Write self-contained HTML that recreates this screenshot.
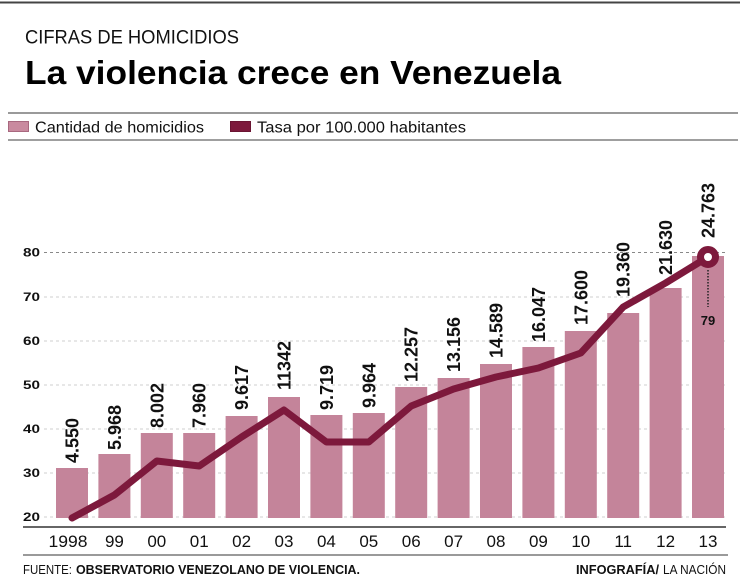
<!DOCTYPE html>
<html>
<head>
<meta charset="utf-8">
<style>
  html, body { margin: 0; padding: 0; background: #ffffff; }
  body { width: 740px; height: 578px; overflow: hidden; }
  svg { display: block; }
  text { font-family: "Liberation Sans", Arial, sans-serif; }
</style>
</head>
<body>
<svg width="740" height="578" viewBox="0 0 740 578" xmlns="http://www.w3.org/2000/svg">
  <rect x="0" y="0" width="740" height="578" fill="#ffffff"/>
  <!-- top rule -->
  <line x1="0" y1="2.5" x2="740" y2="2.5" stroke="#444" stroke-width="2"/>

  <!-- titles -->
  <text x="25" y="43.5" font-size="19" fill="#111" textLength="214" lengthAdjust="spacingAndGlyphs">CIFRAS DE HOMICIDIOS</text>
  <text x="25" y="84" font-size="33" font-weight="bold" fill="#000" textLength="536" lengthAdjust="spacingAndGlyphs">La violencia crece en Venezuela</text>

  <!-- legend -->
  <line x1="8" y1="113" x2="738" y2="113" stroke="#9a9a9a" stroke-width="2"/>
  <rect x="8.5" y="121.5" width="20" height="10" fill="#c98a9f" stroke="#a8687f" stroke-width="1"/>
  <text x="35" y="132.5" font-size="16" fill="#111" textLength="169" lengthAdjust="spacingAndGlyphs">Cantidad de homicidios</text>
  <rect x="230.5" y="121.5" width="20" height="10" fill="#7d193c" stroke="#6a1432" stroke-width="1"/>
  <text x="257" y="132.5" font-size="16" fill="#111" textLength="209" lengthAdjust="spacingAndGlyphs">Tasa por 100.000 habitantes</text>
  <line x1="8" y1="140" x2="738" y2="140" stroke="#666" stroke-width="1.2"/>

  <!-- gridlines -->
  <g stroke-width="1" stroke-dasharray="3,3">
    <line x1="44" y1="252.5" x2="726" y2="252.5" stroke="#888"/>
    <line x1="44" y1="297" x2="726" y2="297" stroke="#cfcfcf"/>
    <line x1="44" y1="341" x2="726" y2="341" stroke="#cfcfcf"/>
    <line x1="44" y1="385" x2="726" y2="385" stroke="#cfcfcf"/>
    <line x1="44" y1="429" x2="726" y2="429" stroke="#cfcfcf"/>
    <line x1="44" y1="473" x2="726" y2="473" stroke="#cfcfcf"/>
    <line x1="44" y1="517" x2="726" y2="517" stroke="#cfcfcf"/>
  </g>

  <!-- y labels -->
  <g font-size="11.5" font-weight="bold" fill="#111" text-anchor="end">
    <text x="40" y="256.5" textLength="17" lengthAdjust="spacingAndGlyphs">80</text>
    <text x="40" y="301" textLength="17" lengthAdjust="spacingAndGlyphs">70</text>
    <text x="40" y="345" textLength="17" lengthAdjust="spacingAndGlyphs">60</text>
    <text x="40" y="389" textLength="17" lengthAdjust="spacingAndGlyphs">50</text>
    <text x="40" y="433" textLength="17" lengthAdjust="spacingAndGlyphs">40</text>
    <text x="40" y="477" textLength="17" lengthAdjust="spacingAndGlyphs">30</text>
    <text x="40" y="521" textLength="17" lengthAdjust="spacingAndGlyphs">20</text>
  </g>

  <!-- bars -->
  <g fill="#c4849a">
    <rect x="56" y="468" width="32" height="50"/>
    <rect x="98.4" y="454" width="32" height="64"/>
    <rect x="140.8" y="433" width="32" height="85"/>
    <rect x="183.2" y="433" width="32" height="85"/>
    <rect x="225.6" y="416" width="32" height="102"/>
    <rect x="268" y="397" width="32" height="121"/>
    <rect x="310.4" y="415" width="32" height="103"/>
    <rect x="352.8" y="413" width="32" height="105"/>
    <rect x="395.2" y="387" width="32" height="131"/>
    <rect x="437.6" y="378" width="32" height="140"/>
    <rect x="480" y="364" width="32" height="154"/>
    <rect x="522.4" y="347" width="32" height="171"/>
    <rect x="564.8" y="331" width="32" height="187"/>
    <rect x="607.2" y="313" width="32" height="205"/>
    <rect x="649.6" y="288" width="32" height="230"/>
    <rect x="692" y="256" width="32" height="262"/>
  </g>

  <!-- value labels (rotated) -->
  <g font-size="18" font-weight="bold" fill="#111">
    <text transform="translate(78.5,463) rotate(-90)">4.550</text>
    <text transform="translate(120.9,450) rotate(-90)">5.968</text>
    <text transform="translate(163.3,428) rotate(-90)">8.002</text>
    <text transform="translate(205.7,428) rotate(-90)">7.960</text>
    <text transform="translate(248.1,410) rotate(-90)">9.617</text>
    <text transform="translate(290.5,390) rotate(-90)">11342</text>
    <text transform="translate(332.9,410) rotate(-90)">9.719</text>
    <text transform="translate(375.3,408) rotate(-90)">9.964</text>
    <text transform="translate(417.7,382) rotate(-90)">12.257</text>
    <text transform="translate(460.1,372) rotate(-90)">13.156</text>
    <text transform="translate(502.5,358) rotate(-90)">14.589</text>
    <text transform="translate(544.9,342) rotate(-90)">16.047</text>
    <text transform="translate(587.3,325) rotate(-90)">17.600</text>
    <text transform="translate(629.7,297) rotate(-90)">19.360</text>
    <text transform="translate(672.1,275) rotate(-90)">21.630</text>
    <text transform="translate(714.5,238) rotate(-90)">24.763</text>
  </g>

  <!-- rate line -->
  <polyline fill="none" stroke="#7d193c" stroke-width="7" stroke-linejoin="round" stroke-linecap="round"
    points="72,518 114.4,495 156.8,461 199.2,466 241.6,437 284,410 326.4,442 368.8,442 411.2,406 453.6,389 496,377 538.4,368 580.8,353 623.2,307 665.6,283 708,257"/>
  <circle cx="708" cy="257" r="7.5" fill="#ffffff" stroke="#7d193c" stroke-width="7"/>

  <!-- 79 annotation -->
  <line x1="708" y1="270" x2="708" y2="307" stroke="#222" stroke-width="1.5" stroke-dasharray="1.5,1.5"/>
  <text x="708" y="325" font-size="13" font-weight="bold" fill="#111" text-anchor="middle">79</text>

  <!-- x axis -->
  <line x1="23" y1="527" x2="726" y2="527" stroke="#333" stroke-width="1.5"/>
  <g font-size="17" fill="#111" text-anchor="middle">
    <text x="68" y="547" textLength="39" lengthAdjust="spacingAndGlyphs">1998</text>
    <text x="114.4" y="547">99</text>
    <text x="156.8" y="547">00</text>
    <text x="199.2" y="547">01</text>
    <text x="241.6" y="547">02</text>
    <text x="284" y="547">03</text>
    <text x="326.4" y="547">04</text>
    <text x="368.8" y="547">05</text>
    <text x="411.2" y="547">06</text>
    <text x="453.6" y="547">07</text>
    <text x="496" y="547">08</text>
    <text x="538.4" y="547">09</text>
    <text x="580.8" y="547">10</text>
    <text x="623.2" y="547">11</text>
    <text x="665.6" y="547">12</text>
    <text x="708" y="547">13</text>
  </g>

  <!-- footer -->
  <line x1="23" y1="555" x2="728" y2="555" stroke="#9a9a9a" stroke-width="2"/>
  <text x="23" y="574" font-size="13" fill="#111" textLength="49" lengthAdjust="spacingAndGlyphs">FUENTE:</text>
  <text x="76" y="574" font-size="13" font-weight="bold" fill="#111" textLength="284" lengthAdjust="spacingAndGlyphs">OBSERVATORIO VENEZOLANO DE VIOLENCIA.</text>
  <text x="576" y="574" font-size="13" font-weight="bold" fill="#111" textLength="83" lengthAdjust="spacingAndGlyphs">INFOGRAFÍA/</text>
  <text x="663" y="574" font-size="13" fill="#111" textLength="63" lengthAdjust="spacingAndGlyphs">LA NACIÓN</text>
</svg>
</body>
</html>
